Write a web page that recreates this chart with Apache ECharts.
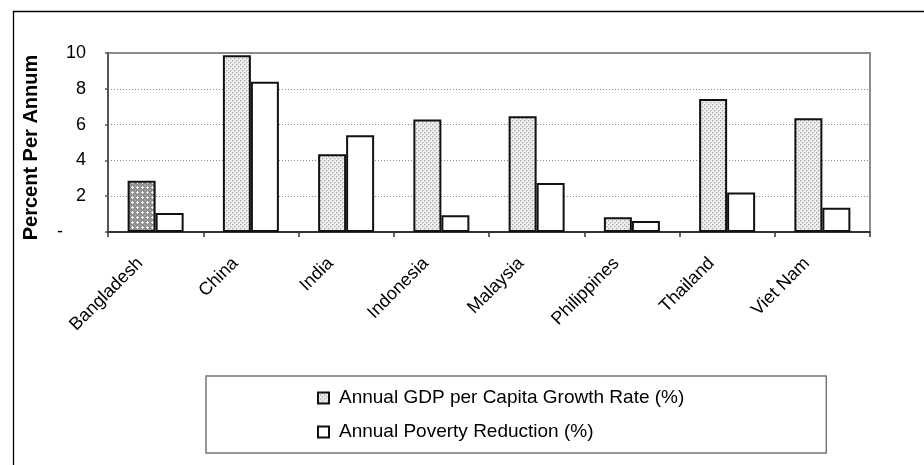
<!DOCTYPE html>
<html>
<head>
<meta charset="utf-8">
<script src="https://cdn.jsdelivr.net/npm/echarts@6/dist/echarts.min.js"></script>
<style>
  html, body { margin: 0; padding: 0; background: #fff; }
  #chart { width: 924px; height: 465px; }
</style>
</head>
<body>
<div id="chart"></div>
<script>
// Growth and poverty reduction by country
const countries = ['Bangladesh', 'China', 'India', 'Indonesia', 'Malaysia', 'Philippines', 'Thailand', 'Viet Nam'];
const gdpGrowth = [2.87, 9.88, 4.34, 6.28, 6.46, 0.82, 7.43, 6.35];
const povertyReduction = [1.06, 8.40, 5.40, 0.93, 2.74, 0.61, 2.20, 1.36];
const seriesNames = ['Annual GDP per Capita Growth Rate (%)', 'Annual Poverty Reduction (%)'];
const yTicks = [0, 2, 4, 6, 8, 10];

const FONT = 'Arial, "Liberation Sans", sans-serif';

// Small repeating fill tiles for the hatched bars
function makeTile(size, base, dots) {
  const c = document.createElement('canvas');
  c.width = size; c.height = size;
  const g = c.getContext('2d');
  g.fillStyle = base;
  g.fillRect(0, 0, size, size);
  dots.forEach(function (d) {
    g.fillStyle = d[2];
    g.fillRect(d[0], d[1], 1, 1);
  });
  return c;
}
const lightTile = makeTile(4, '#efefef', [
  [0, 0, '#b0b0b0'], [2, 2, '#b0b0b0'],
  [1, 0, '#d2d2d2'], [0, 1, '#d2d2d2'], [3, 2, '#d2d2d2'], [2, 3, '#d2d2d2']
]);
const darkTile = makeTile(5, '#8f8f8f', [
  [2, 1, '#f2f2f2'], [1, 2, '#f2f2f2'], [2, 2, '#f2f2f2'], [3, 2, '#f2f2f2'], [2, 3, '#f2f2f2'],
  [0, 0, '#b5b5b5'], [4, 4, '#a5a5a5']
]);
const lightFill = { image: lightTile, repeat: 'repeat' };
const darkFill = { image: darkTile, repeat: 'repeat' };

const gdpData = gdpGrowth.map(function (v, i) {
  return i === 0 ? { value: v, itemStyle: { color: darkFill } } : v;
});

const chart = echarts.init(document.getElementById('chart'), null, { renderer: 'canvas' });
chart.setOption({
  animation: false,
  backgroundColor: '#fff',
  textStyle: { fontFamily: FONT, color: '#000' },
  graphic: [{
    type: 'rect',
    shape: { x: 13.5, y: 11.5, width: 1200, height: 1000 },
    style: { fill: 'none', stroke: '#000', lineWidth: 1.3 },
    silent: true
  }],
  grid: {
    left: 108, right: 54, top: 53, bottom: 233,
    show: true, borderColor: '#8c8c8c', borderWidth: 2, backgroundColor: 'transparent'
  },
  legend: {
    orient: 'vertical',
    left: 206, top: 376,
    padding: [11, 142, 10, 111],
    itemGap: 12,
    itemWidth: 11, itemHeight: 11,
    icon: 'rect',
    borderColor: '#777', borderWidth: 1.5,
    textStyle: { fontFamily: FONT, fontSize: 19, color: '#000', lineHeight: 22, padding: [0, 0, 0, 5] },
    data: seriesNames
  },
  xAxis: {
    type: 'category',
    data: countries,
    boundaryGap: true,
    axisLine: { lineStyle: { color: '#333', width: 2 } },
    axisTick: { show: true, alignWithLabel: false, length: 5, lineStyle: { color: '#333', width: 1.5 } },
    axisLabel: {
      interval: 0, rotate: 45, margin: 13,
      fontFamily: FONT, fontSize: 18, color: '#000',
      formatter: function (v) { return '{c|' + v + '}'; },
      rich: { c: { fontFamily: FONT, fontSize: 18, color: '#000', padding: [0, 22, 0, 0] } }
    },
    splitLine: { show: false }
  },
  yAxis: {
    type: 'value',
    min: 0, max: 10, interval: 2,
    name: 'Percent Per Annum',
    nameLocation: 'middle',
    nameRotate: 90,
    nameGap: 67,
    nameTextStyle: { fontFamily: FONT, fontSize: 20, fontWeight: 'bold', color: '#000', padding: [0, 10, 0, 0] },
    axisLine: { show: true, lineStyle: { color: '#555', width: 2 } },
    axisTick: { show: true, length: 3, lineStyle: { color: '#555', width: 1.5 } },
    axisLabel: {
      margin: 22,
      fontFamily: FONT, fontSize: 18, color: '#000',
      formatter: function (v) {
        return yTicks.indexOf(v) === 0 ? '{z|-}' : String(v);
      },
      rich: { z: { fontFamily: FONT, fontSize: 18, color: '#000', padding: [0, 23, 0, 0] } }
    },
    splitLine: { show: true, lineStyle: { color: '#8a8a8a', width: 1, type: [1, 2] } }
  },
  series: [
    {
      name: seriesNames[0],
      type: 'bar',
      data: gdpData,
      barWidth: 28,
      barGap: '0%',
      itemStyle: { color: lightFill, borderColor: '#111', borderWidth: 2 }
    },
    {
      name: seriesNames[1],
      type: 'bar',
      data: povertyReduction,
      barWidth: 28,
      barGap: '0%',
      itemStyle: { color: '#fff', borderColor: '#111', borderWidth: 2 }
    }
  ]
});
</script>
</body>
</html>
